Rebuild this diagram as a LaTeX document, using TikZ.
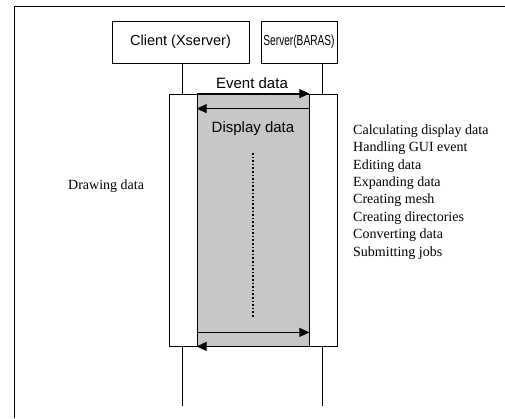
\documentclass[tikz,border=0pt]{standalone}
\usepackage{fontspec}
\setmainfont{Liberation Serif}
\setsansfont{Liberation Sans}
\usetikzlibrary{arrows.meta}

\begin{document}
\begin{tikzpicture}[x=1pt,y=-1pt,
    obj/.style={draw,thick,font=\sffamily\fontsize{14.5}{17}\selectfont,minimum height=42pt,inner sep=0pt},
    act/.style={draw,thick,minimum width=28pt,minimum height=252pt,inner sep=0pt},
    msg/.style={thick,-{Triangle[length=10pt,width=9pt]}},
    lbl/.style={font=\sffamily\fontsize{15}{17}\selectfont,inner sep=0pt},
    note/.style={font=\fontsize{14}{16}\selectfont,inner sep=0pt,anchor=west}]
\useasboundingbox (0,0) rectangle (505,418);
\draw[thick] (505,6) -- (14,6) -- (14,418);

\node[obj,minimum width=137pt] (client) at (180.5,42) {Client (Xserver)};
\node[obj,minimum width=76pt] (server) at (299,42) {\scalebox{0.7}[1]{Server(BARAS)}};

\node[act] (cact) at (183,220) {};
\node[act] (sact) at (323,220) {};
\node[draw,thick,fill=black!22,minimum width=112pt,minimum height=252pt,inner sep=0pt] (shade) at (253,220) {};

\coordinate (cend) at (182,406);
\coordinate (send) at (322,406);
\draw[thick] (client.south -| cend) -- (cact.north -| cend);
\draw[thick] (server.south -| send) -- (sact.north -| send);
\draw[thick] (cact.south -| cend) -- (cend);
\draw[thick] (sact.south -| send) -- (send);

\draw[msg] (shade.north west) -- (shade.north east);
\draw[msg] ([yshift=-15pt]shade.north east) -- ([yshift=-15pt]shade.north west);
\draw[msg] ([yshift=14pt]shade.south west) -- ([yshift=14pt]shade.south east);
\draw[msg] (shade.south east) -- (shade.south west);
\node[lbl] (event) at (252,83) {Event data};
\node[lbl] (display) at (253,129) {Display data};
\coordinate (dtop) at (253,153);
\coordinate (dbot) at (253,317);
\draw[line width=1.6pt,dotted] (dtop) -- (dbot);

\node[note] (drawing) at (68,186) {Drawing data};
\foreach \t [count=\i from 0] in {Calculating display data,Handling GUI event,Editing data,Expanding data,Creating mesh,Creating directories,Converting data,Submitting jobs}
  \node[note] (task\i) at (353,131+17.4*\i) {\t};
\end{tikzpicture}
\end{document}
